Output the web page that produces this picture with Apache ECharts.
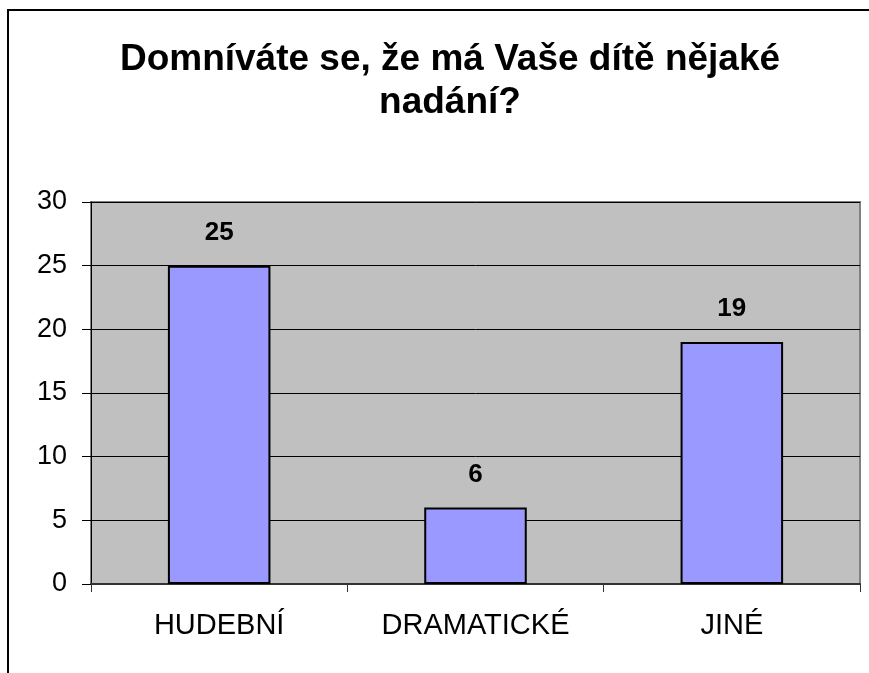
<!DOCTYPE html>
<html>
<head>
<meta charset="utf-8">
<script src="https://cdn.jsdelivr.net/npm/echarts@6/dist/echarts.min.js"></script>
<style>
  html, body { margin: 0; padding: 0; background: #fff; }
  #chart { width: 869px; height: 673px; }
</style>
</head>
<body>
<div id="chart"></div>
<script>
const titleText = "Domníváte se, že má Vaše dítě nějaké\nnadání?";
const categories = ["HUDEBNÍ", "DRAMATICKÉ", "JINÉ"];
const counts = [25, 6, 19];
const yTicks = [0, 5, 10, 15, 20, 25, 30];

const font = "'Liberation Sans', Arial, sans-serif";
const chart = echarts.init(document.getElementById("chart"));

const option = {
  backgroundColor: "#fff",
  animation: false,
  title: {
    text: titleText,
    left: 450,
    top: 38,
    padding: 0,
    textAlign: "center",
    textStyle: {
      fontFamily: font,
      fontSize: 37,
      fontWeight: "bold",
      color: "#000",
      lineHeight: 43,
    },
  },
  // outer frame, runs off the right and bottom edges like the original
  graphic: [
    {
      type: "rect",
      shape: { x: 8, y: 10, width: 900, height: 700 },
      style: { fill: null, stroke: "#000", lineWidth: 2 },
      silent: true,
    },
  ],
  grid: {
    left: 91,
    right: 9,
    top: 202,
    bottom: 89,
    show: true,
    backgroundColor: "#C0C0C0",
    borderColor: "#808080",
    borderWidth: 2,
  },
  xAxis: {
    type: "category",
    data: categories,
    axisLine: { lineStyle: { color: "#333", width: 2 } },
    axisTick: { show: true, length: 8, lineStyle: { color: "#333" } },
    axisLabel: {
      margin: 27,
      fontFamily: font,
      fontSize: 29,
      color: "#000",
    },
    splitLine: { show: false },
  },
  yAxis: {
    type: "value",
    min: yTicks[0],
    max: yTicks[yTicks.length - 1],
    interval: 5,
    axisLine: { show: true, lineStyle: { color: "#000", width: 1 } },
    axisTick: { show: true, length: 9, lineStyle: { color: "#000" } },
    axisLabel: {
      margin: 24,
      fontFamily: font,
      fontSize: 27,
      color: "#000",
    },
    splitLine: { show: true, lineStyle: { color: "#000", width: 1 } },
  },
  series: [
    {
      type: "bar",
      data: counts,
      barWidth: "40%",
      itemStyle: {
        color: "#9999FF",
        borderColor: "#000",
        borderWidth: 2,
      },
      label: {
        show: true,
        position: "top",
        distance: 20,
        fontFamily: font,
        fontSize: 26,
        fontWeight: "bold",
        color: "#000",
      },
    },
  ],
};

chart.setOption(option);
</script>
</body>
</html>
